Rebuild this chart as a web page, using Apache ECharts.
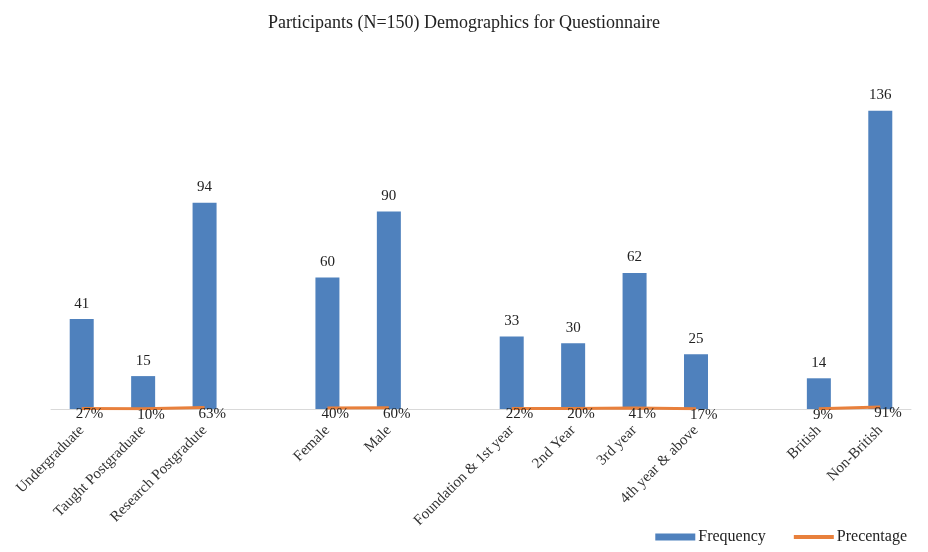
<!DOCTYPE html>
<html>
<head>
<meta charset="utf-8">
<script src="https://cdn.jsdelivr.net/npm/echarts@6/dist/echarts.min.js"></script>
<style>
  html, body { margin: 0; padding: 0; background: #fff; }
  #chart { width: 928px; height: 552px; }
</style>
</head>
<body>
<div id="chart"></div>
<script>
// categories (empty strings are the gaps between groups)
const categories = [
  'Undergraduate', 'Taught Postgraduate', 'Research Postgradute', '',
  'Female', 'Male', '',
  'Foundation & 1st year', '2nd Year', '3rd year', '4th year & above', '',
  'British', 'Non-British'
];
const frequency = [41, 15, 94, '-', 60, 90, '-', 33, 30, 62, 25, '-', 14, 136];
const percentage = [0.27, 0.10, 0.63, '-', 0.40, 0.60, '-', 0.22, 0.20, 0.41, 0.17, '-', 0.09, 0.91];

const serif = '"Liberation Serif", "DejaVu Serif", serif';

const myChart = echarts.init(document.getElementById('chart'));
myChart.setOption({
  animation: false,
  title: {
    text: 'Participants (N=150) Demographics for Questionnaire',
    left: 'center',
    top: 9,
    textStyle: { fontFamily: serif, fontSize: 18, fontWeight: 'normal', color: '#222' }
  },
  legend: {
    right: 16,
    bottom: 2,
    itemWidth: 40,
    itemHeight: 7,
    itemGap: 26,
    textStyle: { fontFamily: serif, fontSize: 16, color: '#222', padding: [0, 0, 0, -2] },
    data: [
      { name: 'Frequency', icon: 'rect' },
      { name: 'Precentage', itemStyle: { opacity: 0 }, lineStyle: { width: 4 } }
    ]
  },
  grid: { left: 51, right: 17, top: 80, bottom: 143 },
  xAxis: {
    type: 'category',
    data: categories,
    axisLine: { lineStyle: { color: '#d9d9d9' } },
    axisTick: { show: false },
    axisLabel: {
      interval: 0,
      rotate: 45,
      margin: 19,
      fontFamily: serif,
      fontSize: 15,
      color: '#333'
    }
  },
  yAxis: {
    type: 'value',
    min: 0,
    max: 150,
    show: false,
    splitLine: { show: false }
  },
  series: [
    {
      name: 'Frequency',
      type: 'bar',
      data: frequency,
      barWidth: 24,
      itemStyle: { color: '#4F81BD' },
      label: {
        show: true,
        position: 'top',
        distance: 8,
        fontFamily: serif,
        fontSize: 15,
        color: '#222'
      }
    },
    {
      name: 'Precentage',
      type: 'line',
      data: percentage,
      symbol: 'circle',
      symbolSize: 0.1,
      showSymbol: true,
      connectNulls: false,
      z: 3,
      lineStyle: { color: '#E8803C', width: 3 },
      itemStyle: { color: '#E8803C' },
      label: {
        show: true,
        position: 'right',
        distance: 0,
        offset: [-6, 6],
        fontFamily: serif,
        fontSize: 15,
        color: '#222',
        formatter: p => Math.round(p.value * 100) + '%'
      }
    }
  ]
});
</script>
</body>
</html>
